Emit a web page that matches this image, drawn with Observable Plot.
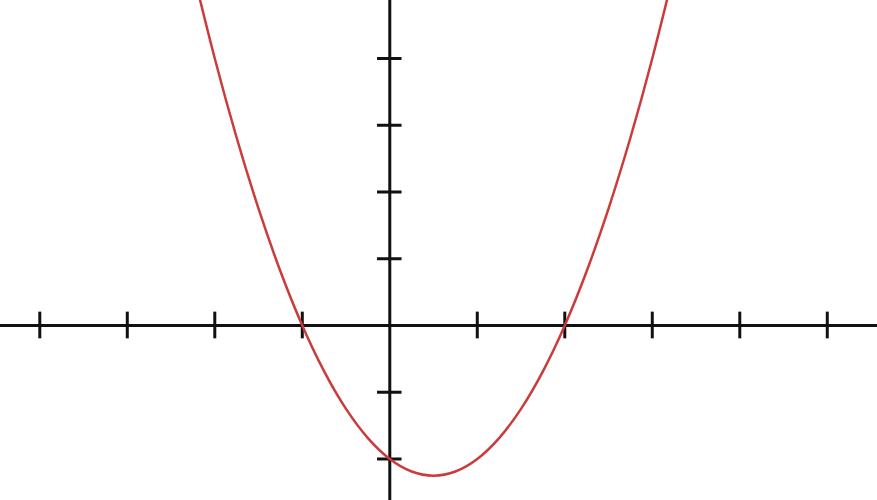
<!DOCTYPE html>
<html>
<head>
<meta charset="utf-8">
<script src="https://cdn.jsdelivr.net/npm/d3@7"></script>
<script src="https://cdn.jsdelivr.net/npm/@observablehq/plot@0.6"></script>
<style>
  html, body { margin: 0; padding: 0; background: #fff; overflow: hidden; }
</style>
</head>
<body>
<div id="chart"></div>
<script>
// Points
const curveX = [-2.25, -2, -1.75, -1.5, -1.25, -1, -0.75, -0.5, -0.25, 0, 0.25, 0.5, 0.75, 1, 1.25, 1.5, 1.75, 2, 2.25, 2.5, 2.75, 3, 3.25];
const curveY = [5.3125, 4, 2.8125, 1.75, 0.8125, 0, -0.6875, -1.25, -1.6875, -2, -2.1875, -2.25, -2.1875, -2, -1.6875, -1.25, -0.6875, 0, 0.8125, 1.75, 2.8125, 4, 5.3125];
// Tick positions
const xTicks = [-4, -3, -2, -1, 1, 2, 3, 4, 5];
const yTicks = [-2, -1, 1, 2, 3, 4];

const points = curveX.map((x, i) => ({x, y: curveY[i]}));

const chart = Plot.plot({
  width: 877,
  height: 500,
  margin: 0,
  x: {domain: [-4.449, 5.574], axis: null},
  y: {domain: [-2.622, 4.869], axis: null},
  marks: [
    Plot.ruleY([0], {stroke: "#111", strokeWidth: 3}),
    Plot.ruleX([0], {stroke: "#111", strokeWidth: 3}),
    Plot.ruleX(xTicks, {x: d => d, y1: -0.2, y2: 0.2, stroke: "#111", strokeWidth: 3}),
    Plot.ruleY(yTicks, {y: d => d, x1: -0.14, x2: 0.14, stroke: "#111", strokeWidth: 3}),
    Plot.line(points, {x: "x", y: "y", curve: "natural", stroke: "#cc3b3b", strokeWidth: 2.5, clip: true})
  ]
});
document.getElementById("chart").appendChild(chart);
</script>
</body>
</html>
